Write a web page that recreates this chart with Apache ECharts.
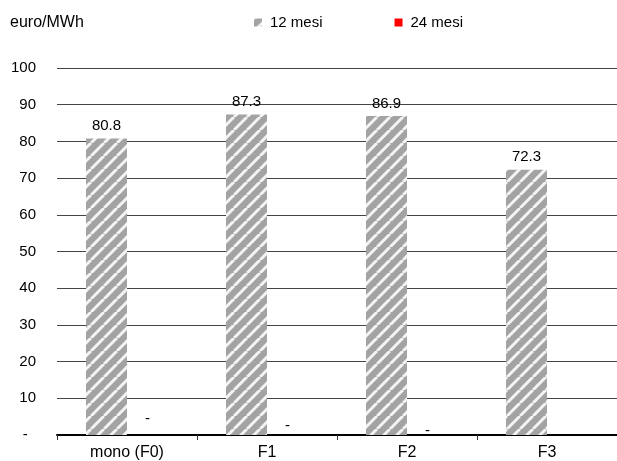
<!DOCTYPE html>
<html>
<head>
<meta charset="utf-8">
<script src="https://cdn.jsdelivr.net/npm/echarts@6/dist/echarts.min.js"></script>
<style>
  html, body { margin: 0; padding: 0; background: #fff; }
  #chart { width: 617px; height: 461px; }
</style>
</head>
<body>
<div id="chart"></div>
<script>
// Prezzi per fascia oraria, euro/MWh
const categories = ['mono (F0)', 'F1', 'F2', 'F3'];
const seriesNames = ['12 mesi', '24 mesi'];
const values12 = [80.8, 87.3, 86.9, 72.3];
const values24 = [0, 0, 0, null];
const yTicks = [0, 10, 20, 30, 40, 50, 60, 70, 80, 90, 100];

// diagonal hatch fill for the 12-month bars
function hatch() {
  const s = 13;
  const c = document.createElement('canvas');
  c.width = s; c.height = s;
  const g = c.getContext('2d');
  g.fillStyle = '#a3a3a3';
  g.fillRect(0, 0, s, s);
  g.strokeStyle = '#f4f4f4';
  g.lineWidth = 3;
  for (const d of [-s, 0, s]) {
    g.beginPath();
    g.moveTo(d, s);
    g.lineTo(d + s, 0);
    g.stroke();
  }
  return c;
}

const chart = echarts.init(document.getElementById('chart'));
const font = 'Liberation Sans, Arial, sans-serif';
const fs = 15;
const dashOffsets = [[0, -5], [0, 2], [0, 7], [0, 0]];

chart.setOption({
  animation: false,
  textStyle: { fontFamily: font },
  graphic: [{
    type: 'text', left: 10, top: 15,
    style: { text: 'euro/MWh', font: '16px ' + font, fill: '#000' }
  }],
  legend: {
    top: 15, left: 254, padding: 0,
    itemWidth: 8, itemHeight: 8, itemGap: 72,
    textStyle: { fontSize: fs, color: '#000', fontFamily: font, padding: [0, 0, 0, 3] },
    data: seriesNames.map(n => ({ name: n, icon: 'rect' }))
  },
  grid: { left: 57, right: 0, top: 68, bottom: 25, containLabel: false },
  xAxis: {
    type: 'category',
    data: categories,
    axisLine: { lineStyle: { color: '#000', width: 2 } },
    axisTick: { show: true, length: 5, lineStyle: { color: '#333' }, alignWithLabel: false },
    axisLabel: { color: '#000', fontSize: 16, margin: 10, fontFamily: font }
  },
  yAxis: {
    type: 'value',
    min: yTicks[0], max: yTicks[yTicks.length - 1], interval: 10,
    axisLine: { show: false },
    axisTick: { show: false },
    splitLine: { lineStyle: { color: '#444', width: 1 } },
    axisLabel: {
      color: '#000', fontSize: fs, margin: 21, fontFamily: font,
      formatter: v => (v === 0 ? '-  ' : String(v))
    }
  },
  series: [
    {
      name: seriesNames[0],
      type: 'bar',
      data: values12,
      barWidth: 41,
      barGap: '0%',
      itemStyle: { color: { image: hatch(), repeat: 'repeat' } },
      label: {
        show: true, position: 'top', distance: 5,
        color: '#000', fontSize: fs, fontFamily: font,
        formatter: p => p.value.toFixed(1)
      }
    },
    {
      name: seriesNames[1],
      type: 'bar',
      data: values24.map((v, i) => ({
        value: v,
        label: { offset: dashOffsets[i] }
      })),
      barWidth: 41,
      barGap: '0%',
      itemStyle: { color: '#ff0000' },
      label: {
        show: true, position: 'top', distance: 4,
        color: '#000', fontSize: fs, fontFamily: font,
        formatter: p => (p.value === 0 ? '-' : p.value)
      }
    }
  ]
});
</script>
</body>
</html>
